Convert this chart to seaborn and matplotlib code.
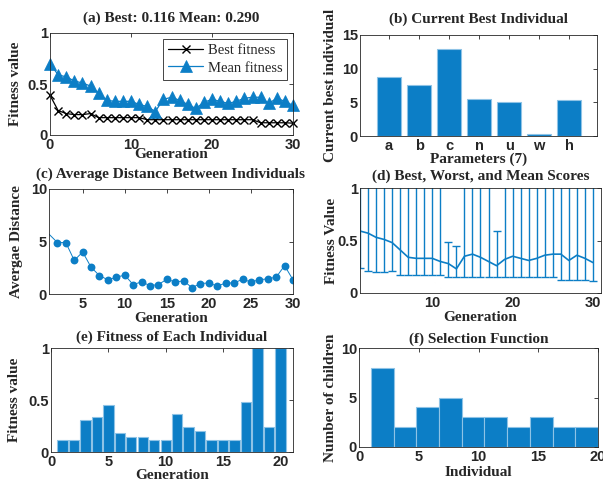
import numpy as np
import pandas as pd
import matplotlib
matplotlib.use("Agg")
import matplotlib.pyplot as plt
import seaborn as sns

# ---------------- data ----------------
gen_a = list(range(0, 31))
best_fitness = [0.39, 0.24, 0.21, 0.20, 0.20, 0.21, 0.17, 0.17, 0.17, 0.17, 0.17,
                0.17, 0.15, 0.15, 0.15, 0.15, 0.15, 0.15, 0.15, 0.15, 0.15,
                0.15, 0.15, 0.15, 0.15, 0.15, 0.12, 0.12, 0.12, 0.12, 0.116]
mean_fitness = [0.70, 0.59, 0.57, 0.53, 0.51, 0.48, 0.41, 0.34, 0.33, 0.33, 0.33,
                0.30, 0.28, 0.23, 0.35, 0.37, 0.34, 0.30, 0.26, 0.32, 0.35,
                0.33, 0.31, 0.33, 0.36, 0.37, 0.37, 0.31, 0.36, 0.33, 0.29]

params = ["a", "b", "c", "n", "u", "w", "h"]
best_individual = [8.7, 7.5, 12.9, 5.5, 5.0, 0.25, 5.3]

gen_c = list(range(1, 31))
avg_distance = [5.7, 4.9, 4.9, 3.2, 4.0, 2.55, 1.75, 1.35, 1.6, 1.8, 0.9, 1.15,
                0.8, 0.9, 1.4, 1.15, 1.25, 0.6, 1.0, 1.05, 0.75, 1.05, 1.05,
                1.4, 1.15, 1.35, 1.45, 1.6, 2.7, 1.35]

gen_d = list(range(1, 31))
worst_scores = [1.2, 1.2, 1.2, 1.2, 1.2, 1.2, 1.2, 1.2, 1.2, 1.2, 1.2, 0.49, 0.45,
                1.2, 1.2, 1.2, 1.2, 0.59, 1.2, 1.2, 1.2, 1.2, 1.2, 1.2, 1.2,
                1.2, 1.2, 1.2, 1.2, 1.2]

individuals = list(range(1, 21))
indiv_fitness = [0.12, 0.12, 0.31, 0.34, 0.45, 0.18, 0.145, 0.145, 0.12, 0.12,
                 0.37, 0.24, 0.20, 0.12, 0.12, 0.12, 0.48, 1.0, 0.24, 1.0]

children_counts = [8, 2, 4, 5, 3, 3, 2, 3, 2, 2]
sel_range = (1, 20)

ticks_a_x = [0, 10, 20, 30]
ticks_01 = [0, 0.5, 1]
labels_01 = ["0", "0.5", "1"]
ticks_b_y = [0, 5, 10, 15]
ticks_c_x = [5, 10, 15, 20, 25, 30]
ticks_c_y = [0, 5, 10]
ticks_d_x = [10, 20, 30]
ticks_e_x = [0, 5, 10, 15, 20]

# ---------------- style ----------------
sns.set_theme(style="white")
plt.rcParams["font.family"] = ["Liberation Serif", "DejaVu Serif"]
plt.rcParams["font.weight"] = "bold"
plt.rcParams["axes.titleweight"] = "bold"
plt.rcParams["axes.labelweight"] = "bold"

BLUE = "#0C7EC6"
EDGE = "#8EC3E6"
SPINE = "#262626"
TFS = 11
LFS = 11
KFS = 10.5
tick_kw = dict(fontfamily="Liberation Sans", fontweight="bold", fontsize=KFS)

fig = plt.figure(figsize=(6.03, 4.84), dpi=100)
W, H = 603.0, 484.0


def mk(l, r, t, b):
    return fig.add_axes([l / W, (H - b) / H, (r - l) / W, (b - t) / H])


def style(ax, xt, xl, yt, yl):
    for s in ax.spines.values():
        s.set_color(SPINE)
        s.set_linewidth(0.6)
        s.set_visible(True)
    ax.set_xticks(xt, xl, **tick_kw)
    ax.set_yticks(yt, yl, **tick_kw)
    ax.tick_params(direction="in", length=3, width=0.6, top=True, right=True,
                   colors=SPINE, pad=2)
    ax.tick_params(axis="y", pad=1.5)


# (a)
axA = mk(50, 293, 33, 135)
sns.lineplot(x=gen_a, y=best_fitness, ax=axA, color="black", lw=0.9,
             marker="x", markersize=6, markeredgecolor="black",
             markeredgewidth=1.0, label="Best fitness", clip_on=False)
sns.lineplot(x=gen_a, y=mean_fitness, ax=axA, color=BLUE, lw=0.9,
             marker="^", markersize=8, markeredgecolor=BLUE,
             markerfacecolor=BLUE, markeredgewidth=0.5, label="Mean fitness",
             clip_on=False)
axA.set_xlim(0, 30)
axA.set_ylim(0, 1)
style(axA, ticks_a_x, [str(v) for v in ticks_a_x], ticks_01, labels_01)
axA.set_title("(a) Best: 0.116 Mean: 0.290", fontsize=TFS, pad=8)
axA.set_xlabel("Generation", fontsize=LFS)
axA.set_ylabel("Fitness value", fontsize=LFS)
axA.xaxis.set_label_coords(0.5, -0.125)
axA.yaxis.set_label_coords(-0.115, 0.5)
leg = axA.legend(loc="upper right", bbox_to_anchor=(0.977, 0.945), borderaxespad=0,
                 prop=dict(family="Liberation Serif", size=10.5, weight="normal"),
                 handlelength=2.4, handletextpad=0.3, borderpad=0.35,
                 labelspacing=0.3, fancybox=False, framealpha=1, numpoints=1)
leg.get_frame().set_edgecolor(SPINE)
leg.get_frame().set_linewidth(0.6)

# (b)
axB = mk(360, 597, 35, 136)
sns.barplot(x=params, y=best_individual, ax=axB, color=BLUE, saturation=1,
            width=0.82, edgecolor=EDGE, linewidth=0.8)
axB.set_xlim(-0.97, 6.93)
axB.set_ylim(0, 15)
style(axB, list(range(len(params))), params, ticks_b_y, [str(v) for v in ticks_b_y])
axB.set_title("(b) Current Best Individual", fontsize=TFS, pad=9)
axB.set_xlabel("Parameters (7)", fontsize=LFS)
axB.set_ylabel("Current best individual", fontsize=LFS)
axB.xaxis.set_label_coords(0.5, -0.16)
axB.yaxis.set_label_coords(-0.097, 0.5)

# (c)
axC = mk(49, 293, 189, 294)
sns.lineplot(x=gen_c, y=avg_distance, ax=axC, color=BLUE, lw=0.7)
sns.scatterplot(x=gen_c[1:], y=avg_distance[1:], ax=axC, color=BLUE, s=32,
                linewidth=0)
axC.set_xlim(1, 30)
axC.set_ylim(0, 10)
style(axC, ticks_c_x, [str(v) for v in ticks_c_x], ticks_c_y, [str(v) for v in ticks_c_y])
axC.set_title("(c) Average Distance Between Individuals", fontsize=TFS, pad=8)
axC.set_xlabel("Generation", fontsize=LFS)
axC.set_ylabel("Avergae Distance", fontsize=LFS)
axC.xaxis.set_label_coords(0.5, -0.17)
axC.yaxis.set_label_coords(-0.107, 0.5)

# (d)
axD = mk(360, 601, 188, 293)
mean_d = np.array(mean_fitness[1:])
best_d = np.array(best_fitness[1:])
worst_d = np.array(worst_scores)
axD.errorbar(gen_d, mean_d, yerr=[mean_d - best_d, worst_d - mean_d], fmt="none",
             ecolor=BLUE, elinewidth=1.0, capsize=3.2, capthick=1.0)
sns.lineplot(x=gen_d, y=mean_d, ax=axD, color=BLUE, lw=1.2)
axD.set_xlim(1, 31)
axD.set_ylim(0, 1)
style(axD, ticks_d_x, [str(v) for v in ticks_d_x], ticks_01, labels_01)
axD.set_title("(d) Best, Worst, and Mean Scores", fontsize=TFS, pad=6)
axD.set_xlabel("Generation", fontsize=LFS)
axD.set_ylabel("Fitness Value", fontsize=LFS)
axD.xaxis.set_label_coords(0.5, -0.17)
axD.yaxis.set_label_coords(-0.091, 0.5)

# (e)
axE = mk(51, 293, 348, 452)
sns.barplot(x=individuals, y=indiv_fitness, ax=axE, native_scale=True, color=BLUE,
            saturation=1, width=0.9, edgecolor=EDGE, linewidth=0.8)
axE.set_xlim(0, 21.1)
axE.set_ylim(0, 1)
style(axE, ticks_e_x, [str(v) for v in ticks_e_x], ticks_01, labels_01)
axE.set_title("(e) Fitness of Each Individual", fontsize=TFS, pad=5)
axE.set_xlabel("Generation", fontsize=LFS)
axE.set_ylabel("Fitness value", fontsize=LFS)
axE.xaxis.set_label_coords(0.5, -0.16)
axE.yaxis.set_label_coords(-0.124, 0.5)

# (f)
axF = mk(359, 598, 348, 447)
edges = np.linspace(sel_range[0], sel_range[1], len(children_counts) + 1)
sel_df = pd.DataFrame({
    "center": (edges[:-1] + edges[1:]) / 2,
    "count": children_counts,
})
sns.histplot(data=sel_df, x="center", weights="count", bins=edges.tolist(), ax=axF,
             color=BLUE, alpha=1, edgecolor=EDGE, linewidth=0.8)
axF.set_xlim(0, 20)
axF.set_ylim(0, 10)
style(axF, ticks_e_x, [str(v) for v in ticks_e_x], ticks_c_y, [str(v) for v in ticks_c_y])
axF.set_title("(f) Selection Function", fontsize=TFS, pad=4)
axF.set_xlabel("Individual", fontsize=LFS)
axF.set_ylabel("Number of children", fontsize=LFS)
axF.xaxis.set_label_coords(0.5, -0.19)
axF.yaxis.set_label_coords(-0.092, 0.5)

fig.savefig("out.png", dpi=100)
